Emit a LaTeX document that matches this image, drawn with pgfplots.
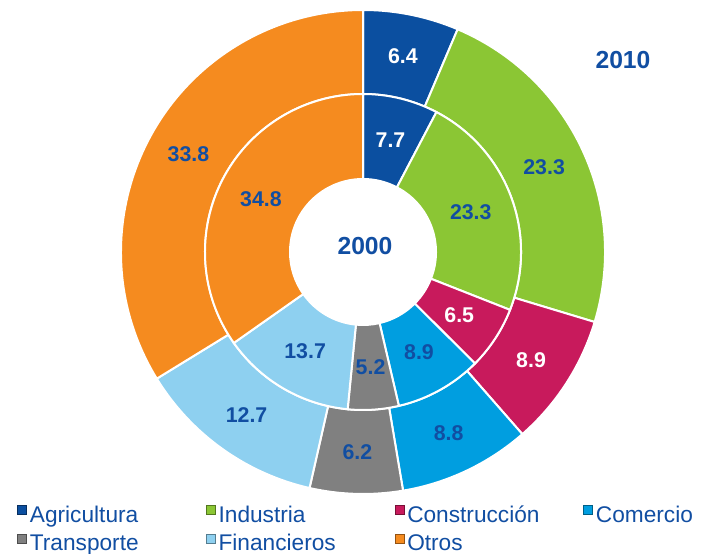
\documentclass[border=0pt]{standalone}
\usepackage{pgfplots}
\pgfplotsset{compat=1.18}
\usepackage{fontspec}
\setmainfont{Liberation Sans}
\definecolor{agri}{RGB}{11,79,160}
\definecolor{indu}{RGB}{139,198,52}
\definecolor{cons}{RGB}{200,26,92}
\definecolor{come}{RGB}{0,158,224}
\definecolor{tran}{RGB}{128,128,128}
\definecolor{fina}{RGB}{142,208,240}
\definecolor{otro}{RGB}{245,139,31}
\definecolor{textblue}{RGB}{17,78,162}
\newcommand\labfont{\fontsize{16}{19}\selectfont\bfseries}
% values (2010 outer ring, 2000 inner ring), clockwise from the top
\def\outerdata{6.4/agri/white, 23.3/indu/textblue, 8.9/cons/white, 8.8/come/textblue, 6.2/tran/textblue, 12.7/fina/textblue, 33.8/otro/textblue}
\def\innerdata{7.7/agri/white, 23.3/indu/textblue, 6.5/cons/white, 8.9/come/textblue, 5.2/tran/textblue, 13.7/fina/textblue, 34.8/otro/textblue}
\newcommand\ring[4]{%
  \gdef\tot{0}%
  \foreach \v/\c/\tc in #1 {\pgfmathparse{\tot+\v}\xdef\tot{\pgfmathresult}}%
  \pgfmathsetmacro\fac{360/\tot}%
  \xdef\fac{\fac}%
  \gdef\cum{0}%
  \foreach \v/\c/\tc in #1 {%
    \pgfmathsetmacro\sa{90-\fac*\cum}%
    \pgfmathsetmacro\ea{90-\fac*(\cum+\v)}%
    \pgfmathsetmacro\ma{(\sa+\ea)/2}%
    \fill[\c, draw=white, line width=1.5pt] (\sa:#3) arc[start angle=\sa, end angle=\ea, radius=#3] -- (\ea:#2) arc[start angle=\ea, end angle=\sa, radius=#2] -- cycle;
    \node[text=\tc, font=\labfont] at (\ma:#4) {\v};
    \pgfmathparse{\cum+\v}\xdef\cum{\pgfmathresult}%
  }}
\begin{document}
\begin{tikzpicture}
\begin{axis}[
  scale only axis, width=525.75pt, height=415.5pt,
  xmin=0, xmax=701, ymin=0, ymax=554,
  hide axis, clip=false,
  legend columns=4,
  legend style={draw=none, fill=none, overlay, at={(axis cs:13,54)}, anchor=north west,
    font=\fontsize{17}{20}\selectfont, text=textblue,
    nodes={text width=130pt, inner xsep=2pt},
    row sep=3.5pt},
  legend image code/.code={\draw[#1, line width=0.7pt] (0pt,0pt) rectangle (6.8pt,6.8pt);},
]
\addlegendimage{fill=agri, draw=agri!60!black}\addlegendentry{Agricultura}
\addlegendimage{fill=indu, draw=indu!60!black}\addlegendentry{Industria}
\addlegendimage{fill=cons, draw=cons!60!black}\addlegendentry{Construcción}
\addlegendimage{fill=come, draw=come!60!black}\addlegendentry{Comercio}
\addlegendimage{fill=tran, draw=tran!60!black}\addlegendentry{Transporte}
\addlegendimage{fill=fina, draw=fina!60!black}\addlegendentry{Financieros}
\addlegendimage{fill=otro, draw=otro!60!black}\addlegendentry{Otros}
\pgfplotsextra{
  \begin{scope}[shift={(axis cs:363,302)}]
    \ring{\outerdata}{118.5pt}{181.5pt}{150pt}
    \ring{\innerdata}{54.75pt}{118.5pt}{86.25pt}
  \end{scope}
  \node[text=textblue, font=\fontsize{18.5}{22}\selectfont\bfseries] at (axis cs:623,494) {2010};
  \node[text=textblue, font=\fontsize{18.5}{22}\selectfont\bfseries] at (axis cs:365,308) {2000};
  \coordinate (SW) at (rel axis cs:0,0);
  \coordinate (NE) at (rel axis cs:1,1);
}
\end{axis}
\pgfresetboundingbox
\path[use as bounding box] (SW) rectangle (NE);
\end{tikzpicture}
\end{document}
